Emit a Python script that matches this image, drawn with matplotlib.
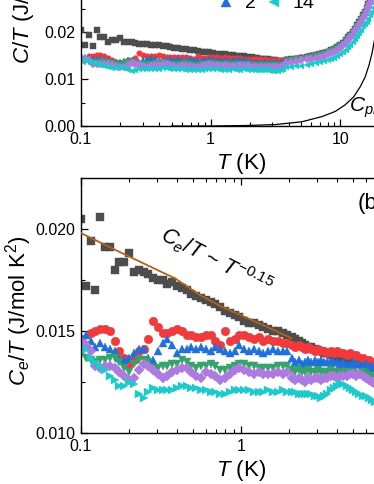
import matplotlib
matplotlib.use('Agg')
import matplotlib.pyplot as plt
from matplotlib.ticker import MultipleLocator, NullFormatter, FormatStrFormatter, LogLocator

plt.rcParams['font.family'] = 'Liberation Sans'
plt.rcParams['mathtext.fontset'] = 'custom'
plt.rcParams['mathtext.rm'] = 'Liberation Sans'
plt.rcParams['mathtext.it'] = 'Liberation Sans:italic'

# ---- data ----
# temperature grid, low T part (K)
T_lo = [0.100, 0.107, 0.115, 0.123, 0.132, 0.141, 0.151, 0.162, 0.174, 0.186,
        0.200, 0.214, 0.229, 0.246, 0.263, 0.282, 0.302, 0.324, 0.347, 0.372,
        0.398, 0.427, 0.457, 0.490, 0.525, 0.562, 0.603, 0.646, 0.692, 0.741,
        0.794, 0.851, 0.912, 0.977, 1.047, 1.122, 1.202, 1.288, 1.380, 1.479,
        1.585, 1.698, 1.820, 1.950]
# denser part above 2 K
T_hi = [2.09, 2.19, 2.29, 2.40, 2.51, 2.63, 2.75, 2.88, 3.02, 3.16,
        3.31, 3.47, 3.63, 3.80, 3.98, 4.17, 4.37, 4.57, 4.79, 5.01,
        5.25, 5.50, 5.75, 6.03, 6.31, 6.61, 6.92, 7.24]

# Ce/T (J/mol K^2), low T part
ce_0_lo = [0.0205, 0.0172, 0.0194, 0.0170, 0.0206, 0.0191, 0.0191, 0.0180, 0.0184, 0.0184,
           0.0188, 0.0179, 0.0180, 0.0179, 0.0178, 0.0176, 0.0175, 0.0175, 0.0173, 0.0174,
           0.0172, 0.0171, 0.0170, 0.0168, 0.0167, 0.0166, 0.0165, 0.0164, 0.0163, 0.0162,
           0.0160, 0.0159, 0.0158, 0.0157, 0.0155, 0.0154, 0.0154, 0.0153, 0.0152, 0.0151,
           0.0150, 0.0150, 0.0149, 0.0148]
ce_1_lo = [0.0146, 0.0143, 0.0149, 0.0150, 0.0151, 0.0151, 0.0150, 0.0145, 0.0140, 0.0137,
           0.0134, 0.0136, 0.0140, 0.0141, 0.0146, 0.0155, 0.0152, 0.0149, 0.0149, 0.0150,
           0.0151, 0.0150, 0.0148, 0.0148, 0.0147, 0.0147, 0.0148, 0.0148, 0.0145, 0.0143,
           0.0150, 0.0145, 0.0146, 0.0148, 0.0148, 0.0147, 0.0146, 0.0147, 0.0145, 0.0146,
           0.0145, 0.0145, 0.0144, 0.0144]
ce_2_lo = [0.0147, 0.0148, 0.0145, 0.0142, 0.0144, 0.0142, 0.0141, 0.0140, 0.0137, 0.0136,
           0.0137, 0.0139, 0.0141, 0.0141, 0.0137, 0.0136, 0.0140, 0.0144, 0.0146, 0.0143,
           0.0139, 0.0141, 0.0141, 0.0142, 0.0141, 0.0142, 0.0141, 0.0140, 0.0142, 0.0141,
           0.0140, 0.0139, 0.0140, 0.0143, 0.0141, 0.0140, 0.0141, 0.0140, 0.0139, 0.0140,
           0.0141, 0.0140, 0.0140, 0.0140]
ce_5_lo = [0.0138, 0.0137, 0.0136, 0.0135, 0.0136, 0.0136, 0.0137, 0.0137, 0.0135, 0.0132,
           0.0130, 0.0134, 0.0136, 0.0136, 0.0135, 0.0132, 0.0132, 0.0133, 0.0133, 0.0134,
           0.0134, 0.0136, 0.0135, 0.0133, 0.0132, 0.0133, 0.0133, 0.0134, 0.0133, 0.0131,
           0.0131, 0.0132, 0.0133, 0.0134, 0.0134, 0.0133, 0.0133, 0.0132, 0.0132, 0.0132,
           0.0132, 0.0133, 0.0133, 0.0133]
ce_9_lo = [0.0145, 0.0143, 0.0140, 0.0133, 0.0132, 0.0133, 0.0133, 0.0132, 0.0130, 0.0128,
           0.0126, 0.0127, 0.0131, 0.0134, 0.0133, 0.0131, 0.0129, 0.0127, 0.0128, 0.0130,
           0.0131, 0.0132, 0.0132, 0.0130, 0.0128, 0.0127, 0.0130, 0.0129, 0.0128, 0.0126,
           0.0127, 0.0129, 0.0131, 0.0132, 0.0131, 0.0130, 0.0129, 0.0130, 0.0129, 0.0129,
           0.0129, 0.0130, 0.0129, 0.0130]
ce_14_lo = [0.0139, 0.0141, 0.0137, 0.0135, 0.0133, 0.0131, 0.0128, 0.0126, 0.0123, 0.0123,
            0.0125, 0.0124, 0.0119, 0.0117, 0.0120, 0.0122, 0.0121, 0.0121, 0.0121, 0.0121,
            0.0122, 0.0123, 0.0123, 0.0122, 0.0122, 0.0121, 0.0121, 0.0120, 0.0120, 0.0119,
            0.0119, 0.0120, 0.0121, 0.0121, 0.0121, 0.0121, 0.0120, 0.0120, 0.0120, 0.0121,
            0.0120, 0.0120, 0.0121, 0.0120]

# Ce/T above 2 K
ce_0_hi = [0.0147, 0.0146, 0.0145, 0.0144, 0.0143, 0.0142, 0.0142, 0.0141, 0.0140, 0.0140,
           0.0139, 0.0139, 0.0138, 0.0138, 0.0137, 0.0137, 0.0136, 0.0136, 0.0135, 0.0135,
           0.0134, 0.0134, 0.0133, 0.0133, 0.0132, 0.0132, 0.0131, 0.0131]
ce_1_hi = [0.0143, 0.0142, 0.0143, 0.0142, 0.0141, 0.0142, 0.0141, 0.0140, 0.0141, 0.0140,
           0.0140, 0.0139, 0.0140, 0.0139, 0.0140, 0.0139, 0.0139, 0.0138, 0.0139, 0.0138,
           0.0138, 0.0137, 0.0137, 0.0136, 0.0136, 0.0135, 0.0134, 0.0133]
ce_2_hi = [0.0137, 0.0135, 0.0136, 0.0134, 0.0135, 0.0136, 0.0135, 0.0136, 0.0135, 0.0136,
           0.0135, 0.0135, 0.0136, 0.0135, 0.0135, 0.0134, 0.0135, 0.0134, 0.0134, 0.0135,
           0.0134, 0.0134, 0.0133, 0.0134, 0.0133, 0.0133, 0.0132, 0.0132]
ce_5_hi = [0.0131, 0.0130, 0.0131, 0.0130, 0.0130, 0.0131, 0.0130, 0.0130, 0.0131, 0.0130,
           0.0130, 0.0130, 0.0131, 0.0130, 0.0130, 0.0130, 0.0129, 0.0130, 0.0129, 0.0130,
           0.0129, 0.0129, 0.0130, 0.0129, 0.0128, 0.0128, 0.0128, 0.0127]
ce_9_hi = [0.0127, 0.0126, 0.0127, 0.0126, 0.0125, 0.0127, 0.0126, 0.0127, 0.0127, 0.0126,
           0.0127, 0.0127, 0.0128, 0.0128, 0.0127, 0.0128, 0.0128, 0.0128, 0.0129, 0.0129,
           0.0128, 0.0129, 0.0128, 0.0127, 0.0126, 0.0125, 0.0124, 0.0123]
ce_14_hi = [0.0120, 0.0120, 0.0119, 0.0119, 0.0119, 0.0119, 0.0119, 0.0118, 0.0118, 0.0117,
            0.0118, 0.0119, 0.0121, 0.0122, 0.0123, 0.0124, 0.0124, 0.0123, 0.0122, 0.0121,
            0.0120, 0.0119, 0.0118, 0.0118, 0.0117, 0.0116, 0.0115, 0.0114]

# total C/T in panel (a) above ~3.8 K, where the phonon part shows
T_top = [3.8, 4.2, 4.6, 5.0, 5.5, 6.0, 6.5, 7.0, 7.5, 8.0, 8.5, 9.0, 9.5, 10.0, 10.5,
         11.0, 11.5, 12.0, 12.5, 13.0, 13.5, 14.0, 14.5, 15.0, 15.5, 16.0, 16.5, 17.0,
         17.5, 18.0, 18.5, 19.0, 20.0]
ct_0_top = [0.0141, 0.0142, 0.0144, 0.0146, 0.0148, 0.0150, 0.0152, 0.0154, 0.0156, 0.0159,
            0.0162, 0.0165, 0.0169, 0.0173, 0.0178, 0.0183, 0.0189, 0.0195, 0.0201, 0.0208,
            0.0215, 0.0222, 0.0229, 0.0236, 0.0244, 0.0252, 0.0260, 0.0269, 0.0278, 0.0287,
            0.0296, 0.0305, 0.0325]
ct_1_top = [0.0143, 0.0144, 0.0145, 0.0147, 0.0149, 0.0151, 0.0153, 0.0155, 0.0157, 0.0160,
            0.0163, 0.0166, 0.0170, 0.0174, 0.0179, 0.0184, 0.0190, 0.0196, 0.0202, 0.0209,
            0.0216, 0.0223, 0.0230, 0.0237, 0.0245, 0.0253, 0.0261, 0.0270, 0.0279, 0.0288,
            0.0297, 0.0306, 0.0326]
ct_2_top = [0.0142, 0.0143, 0.0145, 0.0147, 0.0149, 0.0151, 0.0153, 0.0155, 0.0157, 0.0160,
            0.0163, 0.0166, 0.0170, 0.0174, 0.0179, 0.0184, 0.0190, 0.0196, 0.0202, 0.0209,
            0.0216, 0.0223, 0.0230, 0.0237, 0.0245, 0.0253, 0.0261, 0.0270, 0.0279, 0.0288,
            0.0297, 0.0306, 0.0326]
ct_5_top = [0.0139, 0.0140, 0.0142, 0.0144, 0.0146, 0.0148, 0.0150, 0.0152, 0.0154, 0.0157,
            0.0160, 0.0163, 0.0167, 0.0171, 0.0176, 0.0181, 0.0187, 0.0193, 0.0199, 0.0206,
            0.0213, 0.0220, 0.0227, 0.0234, 0.0242, 0.0250, 0.0258, 0.0267, 0.0276, 0.0285,
            0.0294, 0.0303, 0.0323]
ct_9_top = [0.0135, 0.0136, 0.0138, 0.0140, 0.0142, 0.0144, 0.0146, 0.0148, 0.0150, 0.0153,
            0.0156, 0.0159, 0.0163, 0.0167, 0.0172, 0.0177, 0.0183, 0.0189, 0.0195, 0.0202,
            0.0209, 0.0216, 0.0223, 0.0230, 0.0238, 0.0246, 0.0254, 0.0263, 0.0272, 0.0281,
            0.0290, 0.0299, 0.0319]
ct_14_top = [0.0125, 0.0127, 0.0128, 0.0129, 0.0130, 0.0132, 0.0134, 0.0136, 0.0138, 0.0140,
             0.0143, 0.0146, 0.0150, 0.0154, 0.0158, 0.0163, 0.0168, 0.0173, 0.0179, 0.0185,
             0.0192, 0.0199, 0.0206, 0.0213, 0.0218, 0.0222, 0.0229, 0.0236, 0.0244, 0.0252,
             0.0260, 0.0268, 0.0285]

# phonon contribution Cph/T
T_ph = [0.5, 1.0, 1.85, 3.15, 5.06, 7.22, 9.15, 10.9, 12.7, 14.3, 15.6, 16.7, 17.6, 18.3, 19.5]
cph = [0.0, 0.0, 0.0001, 0.0003, 0.0009, 0.0020, 0.0031, 0.0045, 0.0062, 0.0084,
       0.0105, 0.0130, 0.0155, 0.0180, 0.0220]

# power-law fit line in panel (b)
T_fit = [0.100, 0.188, 0.387, 0.555, 0.758, 1.45, 2.07]
ce_fit = [0.0198, 0.01875, 0.01758, 0.01676, 0.01619, 0.01521, 0.01464]

fields = ['0', '1', '2', '5', '9', '14']
colors = ['#4d4d4d', '#f03a3c', '#1f6fdc', '#36a26c', '#ad7ae0', '#1ec9c9']
markers_a = ['s', 'o', '^', 'v', 'D', '<']
markers_b = ['s', 'o', '^', 'v', 'D', '>']
sizes_a = [3.8, 4.0, 4.2, 4.2, 3.6, 4.2]
sizes_b = [5.6, 6.2, 6.4, 6.4, 5.4, 6.4]

ce_lo = [ce_0_lo, ce_1_lo, ce_2_lo, ce_5_lo, ce_9_lo, ce_14_lo]
ce_hi = [ce_0_hi, ce_1_hi, ce_2_hi, ce_5_hi, ce_9_hi, ce_14_hi]
ct_top = [ct_0_top, ct_1_top, ct_2_top, ct_5_top, ct_9_top, ct_14_top]

fig = plt.figure(figsize=(3.74, 4.84), dpi=100)
ax1 = fig.add_axes([81 / 374, 358 / 484, 321 / 374, 281 / 484])
ax2 = fig.add_axes([81 / 374, 51 / 484, 320 / 374, 255 / 484])

# ---- panel (a) ----
n_keep = 13  # use the Ce/T points up to 3.6 K, total C/T above
for i in range(6):
    T_all = T_lo + T_hi[:n_keep] + T_top
    y_all = ce_lo[i] + ce_hi[i][:n_keep] + ct_top[i]
    ax1.plot(T_all, y_all, ls='none', marker=markers_a[i], ms=sizes_a[i], color=colors[i],
             mec=colors[i], mew=0.3, label=fields[i])
ax1.plot(T_ph, cph, color='black', lw=0.9)
ax1.text(349 / 374, 372 / 484, r'$C_{ph}$', transform=fig.transFigure, fontsize=15,
         va='baseline', ha='left')
ax1.set_xscale('log')
ax1.set_xlim(0.1, 30)
ax1.set_ylim(0, 0.06)
ax1.yaxis.set_major_locator(MultipleLocator(0.01))
ax1.yaxis.set_minor_locator(MultipleLocator(0.005))
ax1.yaxis.set_major_formatter(FormatStrFormatter('%.2f'))
ax1.set_xlabel(r'$T$ (K)', fontsize=16, labelpad=3)
ax1.set_ylabel(r'$C$/$T$ (J/mol K$^{2}$)', fontsize=16)
ax1.yaxis.set_label_coords(-0.133, 0.47)
leg = ax1.legend(ncol=2, loc='lower left', bbox_to_anchor=(216 / 374, 471.5 / 484),
                 bbox_transform=fig.transFigure, frameon=False, fontsize=14,
                 handlelength=1.0, handletextpad=0.48, columnspacing=0.44,
                 borderpad=0, borderaxespad=0, markerscale=1.6, labelspacing=0.3)

# ---- panel (b) ----
for i in range(6):
    ax2.plot(T_lo + T_hi, ce_lo[i] + ce_hi[i], ls='none', marker=markers_b[i],
             ms=sizes_b[i], color=colors[i], mec=colors[i], mew=0.3)
ax2.plot(T_fit, ce_fit, color='#b5611a', lw=1.3, zorder=5)
ax2.text(216 / 374, 223 / 484, r'$C_{e}$/$T$ ~ $T^{-0.15}$', transform=fig.transFigure,
         fontsize=15.5, rotation=-27, ha='center', va='center')
ax2.text(358 / 374, 281 / 484, '(b)', transform=fig.transFigure, fontsize=16,
         ha='left', va='center')
ax2.set_xscale('log')
ax2.set_xlim(0.1, 10)
ax2.set_ylim(0.010, 0.0225)
ax2.yaxis.set_major_locator(MultipleLocator(0.005))
ax2.yaxis.set_minor_locator(MultipleLocator(0.0025))
ax2.yaxis.set_major_formatter(FormatStrFormatter('%.3f'))
ax2.set_xlabel(r'$T$ (K)', fontsize=16, labelpad=3)
ax2.set_ylabel(r'$C_{e}$/$T$ (J/mol K$^{2}$)', fontsize=16)
ax2.yaxis.set_label_coords(-0.148, 0.48)

for ax in (ax1, ax2):
    ax.set_xticks([0.1, 1, 10], ['0.1', '1', '10'])
    ax.xaxis.set_minor_locator(LogLocator(base=10, subs=range(2, 10), numticks=20))
    ax.xaxis.set_minor_formatter(NullFormatter())
    ax.tick_params(which='both', direction='in', top=True, right=True, labelsize=11.5)
    ax.tick_params(which='major', length=5, width=0.9, pad=4)
    ax.tick_params(which='minor', length=2.8, width=0.8)
    for sp in ax.spines.values():
        sp.set_linewidth(1.0)

fig.savefig('out.png', dpi=100)
